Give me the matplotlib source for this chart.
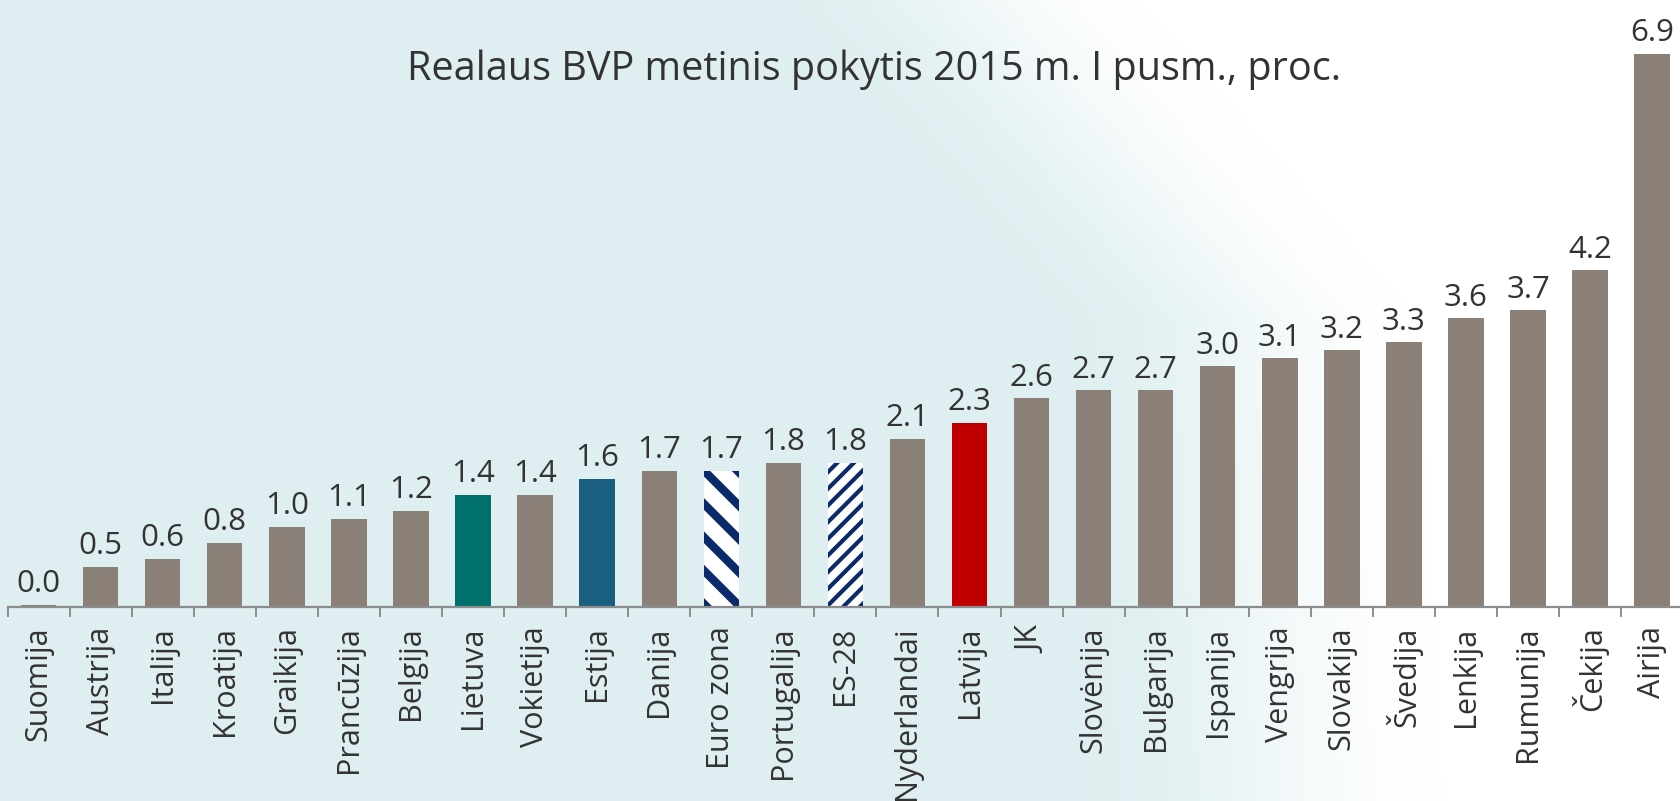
import numpy as np
import matplotlib
matplotlib.use("Agg")
import matplotlib.pyplot as plt

countries = ["Suomija", "Austrija", "Italija", "Kroatija", "Graikija", "Prancūzija",
             "Belgija", "Lietuva", "Vokietija", "Estija", "Danija", "Euro zona",
             "Portugalija", "ES-28", "Nyderlandai", "Latvija", "JK", "Slovėnija",
             "Bulgarija", "Ispanija", "Vengrija", "Slovakija", "Švedija", "Lenkija",
             "Rumunija", "Čekija", "Airija"]
values = [0.03, 0.5, 0.6, 0.8, 1.0, 1.1, 1.2, 1.4, 1.4, 1.6, 1.7, 1.7, 1.8, 1.8,
          2.1, 2.3, 2.6, 2.7, 2.7, 3.0, 3.1, 3.2, 3.3, 3.6, 3.7, 4.2, 6.9]
title = "Realaus BVP metinis pokytis 2015 m. I pusm., proc."

GRAY = "#8b8078"
special = {"Lietuva": "#00706c", "Estija": "#1a5f7f", "Latvija": "#c00000"}
hatched = {"Euro zona": ("\\", 6.0), "ES-28": ("//", 3.0)}
NAVY = "#0b2a6b"
TXT = "#333333"

plt.rcParams['font.family'] = ['Open Sans', 'DejaVu Sans']

W, H = 1681, 801
fig = plt.figure(figsize=(W / 100, H / 100), dpi=100)

# background gradient
bg = fig.add_axes([0, 0, 1, 1], zorder=-10)
yy, xx = np.mgrid[0:H, 0:W].astype(float)
cyan = np.array([0.875, 0.937, 0.943])
white = np.array([1.0, 1.0, 1.0])
xb = np.where(yy < 320, 1000 + 0.87 * yy, 1278 + 0.05 * (yy - 320))
t = np.clip((xx - xb + 220) / 360, 0, 1)
w = t * t * (3 - 2 * t)
img = cyan[None, None, :] * (1 - w[..., None]) + white[None, None, :] * w[..., None]
bg.imshow(img, aspect="auto", extent=[0, 1, 0, 1], origin="upper")
bg.set_axis_off()

left = 7.6 / W
width = 1675.6 / W
bottom = (H - 607) / H
ymax = 7.5
height = ymax * 80.2 / H
ax = fig.add_axes([left, bottom, width, height])
ax.patch.set_alpha(0)

x = np.arange(len(countries))
for i, (c, v) in enumerate(zip(countries, values)):
    if c in hatched:
        h, lw = hatched[c]
        with plt.rc_context({"hatch.linewidth": lw}):
            b = ax.bar(i, v, width=0.57, color="white", edgecolor=NAVY, linewidth=0, hatch=h)[0]
        if hasattr(b, "set_hatch_linewidth"):
            b.set_hatch_linewidth(lw)
    else:
        ax.bar(i, v, width=0.57, color=special.get(c, GRAY), linewidth=0)
    ax.annotate(f"{round(v, 1):.1f}", (i, v), xytext=(0, 4), textcoords="offset points",
                ha="center", va="bottom", fontsize=22.5, color=TXT)

ax.set_xlim(-0.5, len(countries) - 0.5)
ax.set_ylim(0, ymax)
for s in ["top", "right", "left"]:
    ax.spines[s].set_visible(False)
ax.spines["bottom"].set_color("#8c8c8c")
ax.spines["bottom"].set_linewidth(1.6)
ax.set_yticks([])
ax.set_xticks(np.arange(len(countries) + 1) - 0.5)
ax.set_xticklabels([])
ax.tick_params(axis="x", which="major", length=7.5, width=1.4, color="#8c8c8c", direction="out")
ax.set_xticks(x, minor=True)
ax.set_xticklabels(countries, minor=True, rotation=90, fontsize=22, color=TXT)
ax.tick_params(axis="x", which="minor", length=0, pad=14)

fig.text(0.52, 1 - 80 / H, title, ha="center", va="baseline", fontsize=28.5, color=TXT)

fig.savefig("out.png", dpi=100)
